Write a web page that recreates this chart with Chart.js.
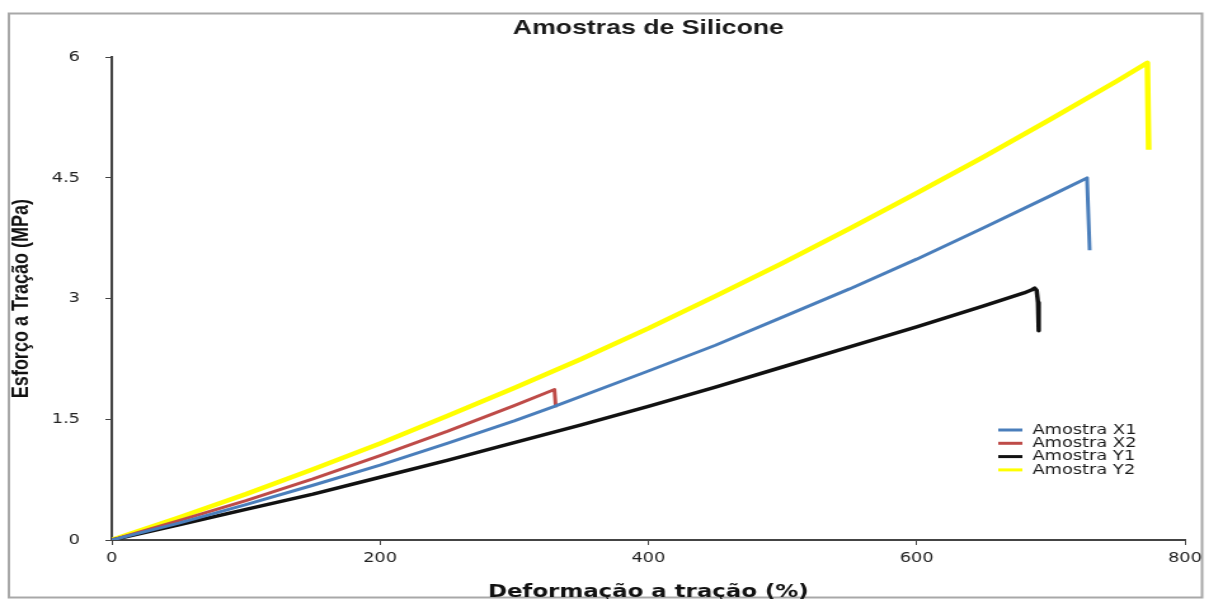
<!DOCTYPE html>
<html>
<head>
<meta charset="utf-8">
<script src="https://cdn.jsdelivr.net/npm/chart.js@4/dist/chart.umd.min.js"></script>
<style>
  html, body { margin: 0; padding: 0; background: #fff; overflow: hidden; }
  /* the reference is stretched horizontally, so draw narrower and scale */
  #wrap { width: 953px; height: 599px; transform: scaleX(1.27); transform-origin: 0 0; }
</style>
</head>
<body>
<div id="wrap"><canvas id="target"></canvas></div>
<script>
  var TITLE = 'Amostras de Silicone';
  var X_TITLE = 'Deformação a tração (%)';
  var Y_TITLE = 'Esforço a Tração (MPa)';

  var X_TICKS = [0, 200, 400, 600, 800];
  var Y_TICKS = [0, 1.5, 3, 4.5, 6];

  var LABELS = ['Amostra X1', 'Amostra X2', 'Amostra Y1', 'Amostra Y2'];

  // Amostra X1
  var x1Strain = [0, 50, 100, 150, 200, 250, 300, 330, 400, 450, 500, 550, 600, 650, 700, 727, 729];
  var x1Stress = [0, 0.21, 0.44, 0.68, 0.93, 1.2, 1.48, 1.66, 2.1, 2.42, 2.77, 3.12, 3.49, 3.88, 4.28, 4.5, 3.6];

  // Amostra X2
  var x2Strain = [0, 50, 100, 150, 200, 250, 300, 330, 331];
  var x2Stress = [0, 0.24, 0.49, 0.76, 1.05, 1.35, 1.67, 1.87, 1.65];

  // Amostra Y1
  var y1Strain = [0, 50, 100, 150, 200, 250, 300, 350, 400, 450, 500, 550, 600, 650, 680, 686, 688, 689.5, 690.5, 691];
  var y1Stress = [0, 0.19, 0.38, 0.57, 0.78, 0.99, 1.21, 1.43, 1.66, 1.9, 2.15, 2.4, 2.65, 2.91, 3.07, 3.11, 3.13, 3.1, 2.95, 2.6];

  // Amostra Y2
  var y2Strain = [0, 50, 100, 150, 200, 250, 300, 350, 400, 450, 500, 550, 600, 650, 700, 750, 772, 773];
  var y2Stress = [0, 0.28, 0.57, 0.88, 1.2, 1.54, 1.89, 2.25, 2.63, 3.03, 3.44, 3.87, 4.31, 4.76, 5.23, 5.71, 5.93, 4.85];

  var COLORS = ['#4a7ebb', '#be4b48', '#111111', '#ffff00'];
  var WIDTHS = [3, 3, 3.5, 4.5];

  function toPoints(xs, ys) {
    return xs.map(function (x, i) { return { x: x, y: ys[i] }; });
  }

  var series = [
    toPoints(x1Strain, x1Stress),
    toPoints(x2Strain, x2Stress),
    toPoints(y1Strain, y1Stress),
    toPoints(y2Strain, y2Stress)
  ];

  var datasets = series.map(function (pts, i) {
    return {
      label: LABELS[i],
      data: pts,
      borderColor: COLORS[i],
      backgroundColor: COLORS[i],
      borderWidth: WIDTHS[i],
      borderJoinStyle: 'round',
      pointRadius: 0,
      tension: 0,
      fill: false
    };
  });

  // grey frame round the whole chart
  var framePlugin = {
    id: 'frame',
    beforeDraw: function (chart) {
      var ctx = chart.ctx;
      ctx.save();
      ctx.strokeStyle = '#a8a8a8';
      ctx.lineWidth = 2;
      ctx.strokeRect(7, 13.5, 939.5, 584);
      ctx.restore();
    }
  };

  // legend inside the plot, lower right
  var legendPlugin = {
    id: 'boxLegend',
    afterDraw: function (chart) {
      var ctx = chart.ctx;
      ctx.save();
      ctx.font = '14px "DejaVu Sans"';
      ctx.textBaseline = 'middle';
      ctx.fillStyle = '#1a1a1a';
      chart.data.datasets.forEach(function (ds, i) {
        var y = 430 + i * 13.3;
        ctx.strokeStyle = ds.borderColor;
        ctx.lineWidth = 3;
        ctx.beginPath();
        ctx.moveTo(786, y);
        ctx.lineTo(805, y);
        ctx.stroke();
        ctx.fillText(ds.label, 813, y);
      });
      ctx.restore();
    }
  };

  var tickFont = { family: '"DejaVu Sans"', size: 14 };

  new Chart(document.getElementById('target').getContext('2d'), {
    type: 'line',
    data: { datasets: datasets },
    plugins: [framePlugin, legendPlugin],
    options: {
      responsive: true,
      maintainAspectRatio: false,
      animation: false,
      layout: { padding: { left: 0, right: 20, top: 0, bottom: 0 } },
      plugins: {
        legend: { display: false },
        tooltip: { enabled: false },
        title: {
          display: true,
          text: TITLE,
          fullSize: false,
          color: '#1a1a1a',
          font: { family: '"Liberation Sans", Arial', size: 21, weight: 'bold', lineHeight: 1.2 },
          padding: { top: 16, bottom: 16 }
        }
      },
      scales: {
        x: {
          type: 'linear',
          min: X_TICKS[0],
          max: X_TICKS[X_TICKS.length - 1],
          afterBuildTicks: function (scale) {
            scale.ticks = X_TICKS.map(function (v) { return { value: v }; });
          },
          afterFit: function (scale) { scale.height = 59; },
          border: { display: true, color: '#444', width: 2 },
          grid: { drawOnChartArea: false, drawTicks: true, tickLength: 5, color: '#444' },
          ticks: { font: tickFont, color: '#222', padding: 5, maxRotation: 0 },
          title: {
            display: true,
            text: X_TITLE,
            color: '#111',
            font: { family: '"DejaVu Sans"', size: 18, weight: 'bold', lineHeight: 1 },
            padding: { top: 0, bottom: -2 }
          }
        },
        y: {
          type: 'linear',
          min: Y_TICKS[0],
          max: Y_TICKS[Y_TICKS.length - 1],
          afterBuildTicks: function (scale) {
            scale.ticks = Y_TICKS.map(function (v) { return { value: v }; });
          },
          afterFit: function (scale) { scale.width = 88; },
          border: { display: true, color: '#444', width: 2 },
          grid: { drawOnChartArea: false, drawTicks: true, tickLength: 5, color: '#444' },
          ticks: { font: tickFont, color: '#222', padding: 20 },
          title: {
            display: true,
            text: Y_TITLE,
            color: '#111',
            font: { family: '"Liberation Sans", Arial', size: 18, weight: 'bold', lineHeight: 1.2 },
            padding: { top: 6, bottom: 0 }
          }
        }
      }
    }
  });
</script>
</body>
</html>
